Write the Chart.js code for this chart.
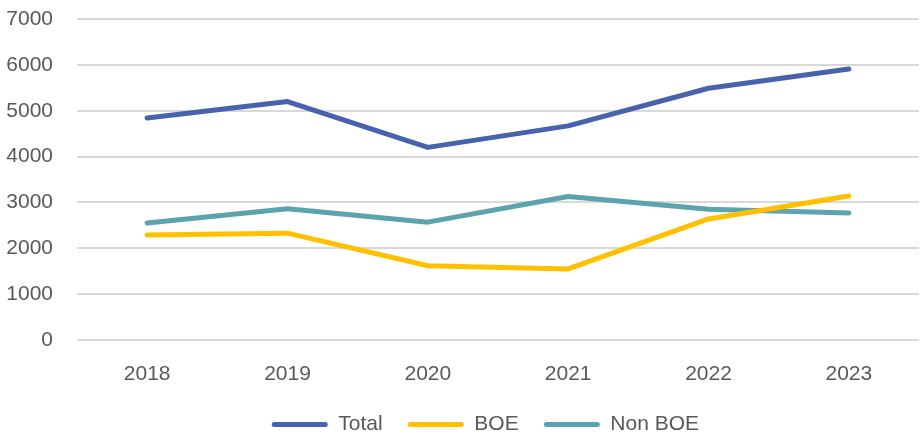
<!DOCTYPE html>
<html lang="en">
<head>
    <meta charset="UTF-8">
    <script src="https://cdn.jsdelivr.net/npm/chart.js"></script>
    <title>Total / BOE / Non BOE</title>
    <style>
        html, body { margin: 0; padding: 0; background: #fff; }
        .chart-wrapper { width: 923px; height: 440px; }
    </style>
</head>
<body>

<div class="chart-wrapper">
    <canvas id="boeChart"></canvas>
</div>

<script>
const years = ['2018', '2019', '2020', '2021', '2022', '2023'];
const totalValues = [4840, 5200, 4200, 4670, 5490, 5910];
const boeValues = [2290, 2330, 1620, 1550, 2640, 3140];
const nonBoeValues = [2550, 2860, 2570, 3130, 2850, 2770];
const yTicks = [0, 1000, 2000, 3000, 4000, 5000, 6000, 7000];

const textColor = '#595959';
const font = { family: "'Liberation Sans', Arial, sans-serif", size: 21 };

function series(label, values, color) {
    return {
        label: label,
        data: values,
        borderColor: color,
        backgroundColor: color,
        borderWidth: 5,
        borderCapStyle: 'round',
        borderJoinStyle: 'round',
        pointRadius: 0,
        pointHoverRadius: 0,
        tension: 0,
        fill: false
    };
}

const ctx = document.getElementById('boeChart').getContext('2d');
new Chart(ctx, {
    type: 'line',
    data: {
        labels: years,
        datasets: [
            series('Total', totalValues, '#4862ad'),
            series('BOE', boeValues, '#ffc000'),
            series('Non BOE', nonBoeValues, '#5ba4ad')
        ]
    },
    options: {
        responsive: true,
        maintainAspectRatio: false,
        animation: false,
        layout: {
            // legend adds 10px below its row, let that part fall off the canvas
            padding: { top: 19, right: 4, left: 6, bottom: -5 }
        },
        scales: {
            x: {
                offset: true,
                grid: { display: false, drawTicks: false },
                border: { display: false },
                ticks: { color: textColor, font: font, padding: 22, maxRotation: 0 },
                afterFit: axis => {
                    axis.height = 74;
                    axis.paddingLeft = 0;
                    axis.paddingRight = 0;
                }
            },
            y: {
                min: 0,
                max: 7000,
                afterBuildTicks: axis => {
                    axis.ticks = yTicks.map(v => ({ value: v }));
                },
                grid: { color: '#d9d9d9', lineWidth: 2, drawTicks: false },
                border: { display: false },
                ticks: {
                    color: textColor,
                    font: font,
                    padding: 24,
                    callback: v => String(v)
                },
                afterFit: axis => {
                    axis.width = 71;
                    axis.paddingTop = 0;
                    axis.paddingBottom = 0;
                }
            }
        },
        plugins: {
            legend: {
                position: 'bottom',
                fullSize: false,
                labels: {
                    color: textColor,
                    font: font,
                    boxWidth: 56,
                    boxHeight: 5,
                    useBorderRadius: true,
                    borderRadius: 2.5,
                    padding: 0,
                    generateLabels: chart => {
                        const items = Chart.defaults.plugins.legend.labels.generateLabels(chart);
                        items.forEach(item => {
                            item.lineWidth = 0;
                            // trailing em + thin space keeps the gap between entries
                            item.text = item.text + '\u2003\u2009';
                        });
                        return items;
                    }
                }
            },
            tooltip: { enabled: false }
        }
    }
});
</script>

</body>
</html>
